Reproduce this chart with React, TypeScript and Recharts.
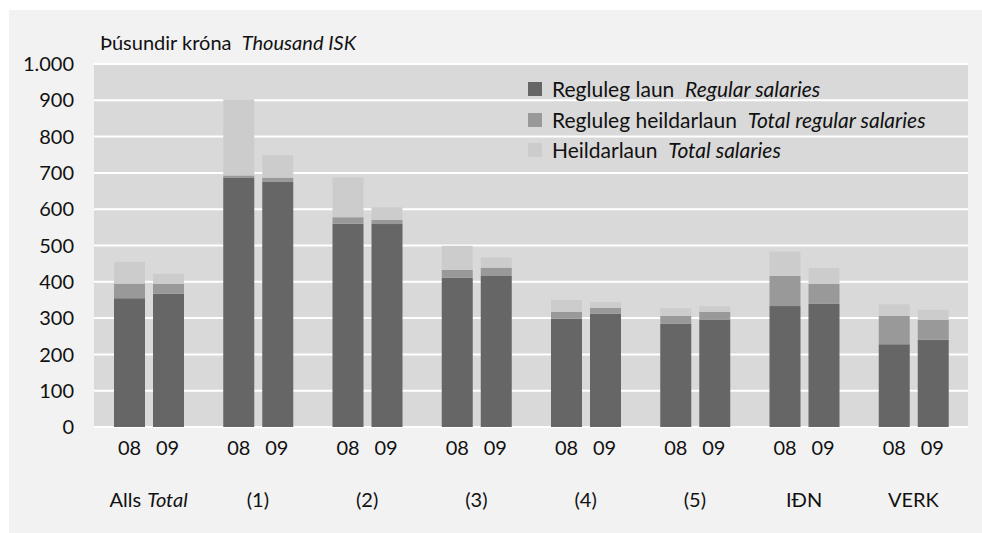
import React from 'react';
import { BarChart, Bar, XAxis, YAxis, CartesianGrid } from 'recharts';

const groupNames = ['Alls', '(1)', '(2)', '(3)', '(4)', '(5)', 'IÐN', 'VERK'];
const groupItalic = ['Total', '', '', '', '', '', '', ''];
const yearLabels = ['08', '09'];
const yTicks = [0, 100, 200, 300, 400, 500, 600, 700, 800, 900, 1000];

// Regluleg laun (Regular salaries)
const regular08 = [355, 687, 560, 411, 299, 284, 333, 228];
const regular09 = [367, 676, 559, 416, 312, 296, 339, 240];
// Regluleg heildarlaun (Total regular salaries)
const totalRegular08 = [395, 693, 578, 433, 317, 306, 416, 306];
const totalRegular09 = [394, 687, 571, 439, 328, 317, 394, 295];
// Heildarlaun (Total salaries)
const total08 = [455, 903, 688, 499, 350, 327, 483, 338];
const total09 = [422, 749, 605, 467, 344, 333, 438, 323];

const data = groupNames.map((g, i) => ({
  group: i,
  a08: regular08[i],
  b08: totalRegular08[i] - regular08[i],
  c08: total08[i] - totalRegular08[i],
  a09: regular09[i],
  b09: totalRegular09[i] - regular09[i],
  c09: total09[i] - totalRegular09[i],
}));

const DARK = '#666666';
const MID = '#999999';
const LIGHT = '#cccccc';
const FONT = 'Lato, "Open Sans", sans-serif';
const TXT = '#111111';
const FS = 20;

const XTick = (props: any) => {
  const { x, y, payload } = props;
  const i = payload.value as number;
  return (
    <g>
      <text x={x - 19} y={y + 28} textAnchor="middle" fontSize={FS} fill={TXT} fontFamily={FONT}>
        {yearLabels[0]}
      </text>
      <text x={x + 19} y={y + 28} textAnchor="middle" fontSize={FS} fill={TXT} fontFamily={FONT}>
        {yearLabels[1]}
      </text>
      <text x={x} y={y + 80} textAnchor="middle" fontSize={FS} fill={TXT} fontFamily={FONT}>
        {groupNames[i]}
        {groupItalic[i] ? (
          <tspan fontStyle="italic" dx={6}>
            {groupItalic[i]}
          </tspan>
        ) : null}
      </text>
    </g>
  );
};

const legendItems = [
  { color: DARK, is: 'Regluleg laun', en: 'Regular salaries' },
  { color: MID, is: 'Regluleg heildarlaun', en: 'Total regular salaries' },
  { color: LIGHT, is: 'Heildarlaun', en: 'Total salaries' },
];

export default function App() {
  return (
    <div style={{ position: 'absolute', left: 0, top: 0, width: 982, height: 533, background: '#ffffff', overflow: 'hidden' }}>
      <div style={{ position: 'absolute', left: 9, top: 10, width: 973, height: 523, background: '#f2f2f2' }} />
      <div
        style={{
          position: 'absolute',
          left: 100,
          top: 30,
          fontFamily: FONT,
          fontSize: FS,
          color: TXT,
          whiteSpace: 'pre',
          lineHeight: '24px',
        }}
      >
        Þúsundir króna  <i>Thousand ISK</i>
      </div>
      <div style={{ position: 'absolute', left: 0, top: 0 }}>
        <BarChart
          width={982}
          height={533}
          data={data}
          margin={{ top: 64, right: 14, bottom: 26, left: 14 }}
          barSize={31}
          barGap={8}
        >
          <CartesianGrid
            vertical={false}
            horizontal={true}
            stroke="#ffffff"
            strokeWidth={2}
            fill="#d9d9d9"
            fillOpacity={1}
          />
          <XAxis
            dataKey="group"
            type="category"
            axisLine={false}
            tickLine={false}
            tickSize={0}
            tickMargin={0}
            height={80}
            tick={<XTick />}
            interval={0}
          />
          <YAxis
            domain={[0, 1000]}
            ticks={yTicks}
            axisLine={false}
            tickLine={false}
            tickSize={0}
            tickMargin={20}
            width={80}
            interval={0}
            tickFormatter={(v: number) => (v === 1000 ? '1.000' : String(v))}
            tick={{ fill: TXT, fontSize: FS, fontFamily: FONT }}
          />
          <Bar dataKey="a08" stackId="y08" fill={DARK} isAnimationActive={false} />
          <Bar dataKey="b08" stackId="y08" fill={MID} isAnimationActive={false} />
          <Bar dataKey="c08" stackId="y08" fill={LIGHT} isAnimationActive={false} />
          <Bar dataKey="a09" stackId="y09" fill={DARK} isAnimationActive={false} />
          <Bar dataKey="b09" stackId="y09" fill={MID} isAnimationActive={false} />
          <Bar dataKey="c09" stackId="y09" fill={LIGHT} isAnimationActive={false} />
        </BarChart>
      </div>
      <div style={{ position: 'absolute', left: 528, top: 74, fontFamily: FONT, fontSize: 21, color: TXT }}>
        {legendItems.map((it) => (
          <div key={it.is} style={{ display: 'flex', alignItems: 'center', height: 30.5, lineHeight: '30px', whiteSpace: 'pre' }}>
            <span style={{ display: 'inline-block', width: 14, height: 14, background: it.color, marginRight: 10 }} />
            <span>
              {it.is}  <i>{it.en}</i>
            </span>
          </div>
        ))}
      </div>
    </div>
  );
}
